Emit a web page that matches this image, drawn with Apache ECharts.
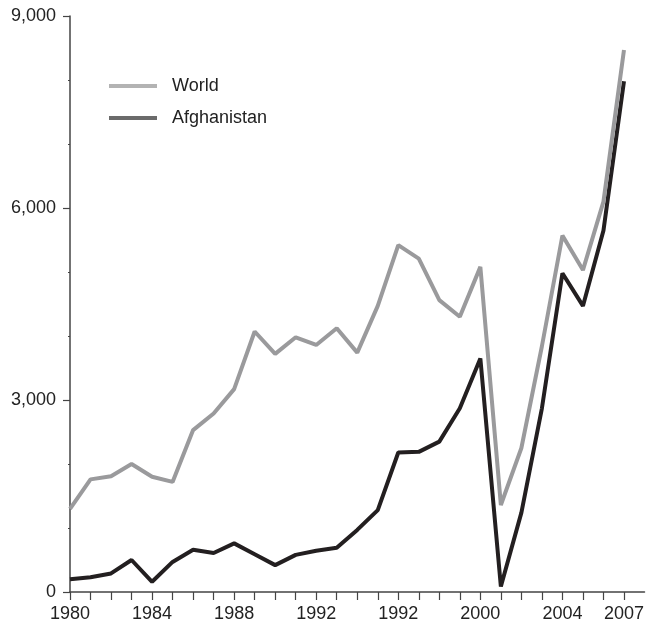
<!DOCTYPE html>
<html><head><meta charset="utf-8">
<script src="https://cdn.jsdelivr.net/npm/echarts@6/dist/echarts.min.js"></script>
<style>html,body{margin:0;padding:0;background:#fff}#c{width:647px;height:625px}</style>
</head><body><div id="c"></div>
<script>
const years = [1980,1981,1982,1983,1984,1985,1986,1987,1988,1989,1990,1991,1992,1993,1994,1995,1996,1997,1998,1999,2000,2001,2002,2003,2004,2005,2006,2007];
const world = [1300,1760,1810,2000,1800,1720,2530,2790,3170,4070,3720,3980,3860,4120,3740,4470,5420,5210,4560,4300,5080,1360,2250,3840,5570,5030,6100,8470];
const afghanistan = [200,230,290,500,160,470,660,610,760,590,420,580,645,690,970,1280,2180,2190,2350,2870,3650,85,1240,2870,4980,4470,5650,7980];
const xTickLabels = {1980:'1980',1984:'1984',1988:'1988',1992:'1992',1996:'1992',2000:'2000',2004:'2004',2007:'2007'};
const yTickLabels = {0:'0',3000:'3,000',6000:'6,000',9000:'9,000'};

const chart = echarts.init(document.getElementById('c'), null, {renderer:'canvas'});
const font = 'Liberation Sans, Arial, sans-serif';
const axisColor = '#444';
chart.setOption({
  animation:false,
  backgroundColor:'#fff',
  grid:{left:70,right:2,top:16,bottom:33,containLabel:false},
  legend:{
    orient:'vertical', left:104, top:72, itemGap:14,
    itemWidth:48, itemHeight:4, icon:'rect',
    textStyle:{fontFamily:font,fontSize:18,color:'#222',padding:[0,0,0,10]},
    data:[
      {name:'World', itemStyle:{color:'#b3b3b3'}},
      {name:'Afghanistan', itemStyle:{color:'#6b6b6b'}}
    ]
  },
  xAxis:{
    type:'value', min:1980, max:2008, interval:1,
    axisLine:{lineStyle:{color:axisColor,width:1.5}},
    axisTick:{length:8,lineStyle:{color:axisColor,width:1.2}},
    splitLine:{show:false},
    axisLabel:{fontFamily:font,fontSize:18,color:'#222',margin:13,
      formatter:v=>xTickLabels[v]||'', showMaxLabel:false, showMinLabel:true}
  },
  yAxis:{
    type:'value', min:0, max:9000, interval:3000,
    axisLine:{show:true,lineStyle:{color:axisColor,width:1.5}},
    axisTick:{show:true,length:7,lineStyle:{color:axisColor,width:1.2}},
    minorTick:{show:true,splitNumber:3,length:2,lineStyle:{color:axisColor,width:1}},
    splitLine:{show:false},
    axisLabel:{fontFamily:font,fontSize:18,color:'#222',margin:14,
      formatter:v=>yTickLabels[v]||''}
  },
  series:[
    {name:'Afghanistan',type:'line',data:years.map((y,i)=>[y,afghanistan[i]]),
     showSymbol:false,symbol:'none',lineStyle:{color:'#231f20',width:4},itemStyle:{color:'#6b6b6b'},z:2},
    {name:'World',type:'line',data:years.map((y,i)=>[y,world[i]]),
     showSymbol:false,symbol:'none',lineStyle:{color:'#9a9a9c',width:4},itemStyle:{color:'#b3b3b3'},z:3}
  ]
});
</script></body></html>
